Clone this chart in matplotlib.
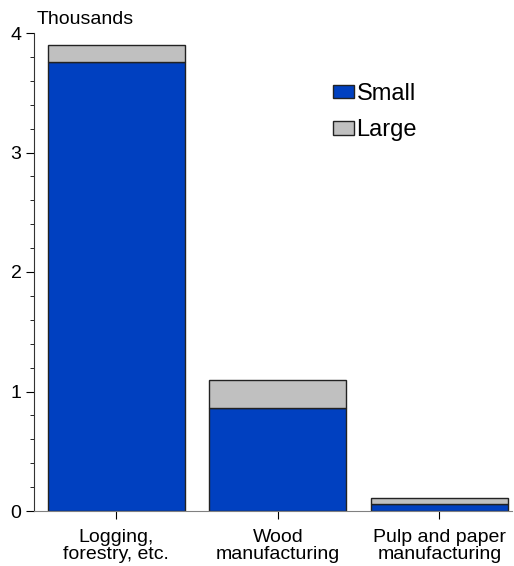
import matplotlib.pyplot as plt
from matplotlib.ticker import MultipleLocator

plt.rcParams['font.family'] = ['Liberation Sans', 'DejaVu Sans']

categories = ["Logging,\nforestry, etc.", "Wood\nmanufacturing", "Pulp and paper\nmanufacturing"]
small = [3.757, 0.862, 0.06]
large = [0.143, 0.234, 0.049]

fig = plt.figure(figsize=(5.14, 5.66), dpi=100)
ax = fig.add_axes([34 / 514, 55 / 566, 478 / 514, 478 / 566])

x = range(len(categories))
ax.bar(x, small, width=0.85, color="#0040C0", edgecolor="#222222", linewidth=1, label="Small")
ax.bar(x, large, width=0.85, bottom=small, color="#C0C0C0", edgecolor="#222222", linewidth=1, label="Large")

ax.set_xlim(-0.51, 2.45)
ax.set_ylim(0, 4)
ax.set_xticks(list(x))
ax.set_xticklabels(categories, fontsize=14, linespacing=0.98)
ax.set_yticks([0, 1, 2, 3, 4])
ax.yaxis.set_minor_locator(MultipleLocator(0.2))
ax.tick_params(axis='y', which='major', length=6, labelsize=14, direction='out', pad=3)
ax.tick_params(axis='y', which='minor', length=3, direction='out')
ax.tick_params(axis='x', length=6, direction='out', pad=7)

for s in ['top', 'right']:
    ax.spines[s].set_visible(False)
ax.spines['bottom'].set_color('#808080')
ax.spines['left'].set_color('#333333')

fig.text(37 / 514, 1 - 19 / 566, "Thousands", fontsize=14, va='center', ha='left')

ax.legend(loc='upper left', bbox_to_anchor=(333 / 514, 1 - 83 / 566), bbox_transform=fig.transFigure,
          frameon=False, fontsize=17, borderpad=0, borderaxespad=0,
          handlelength=0.9, handleheight=0.5, handletextpad=0.1, labelspacing=0.6)

fig.savefig("out.png", dpi=100)
